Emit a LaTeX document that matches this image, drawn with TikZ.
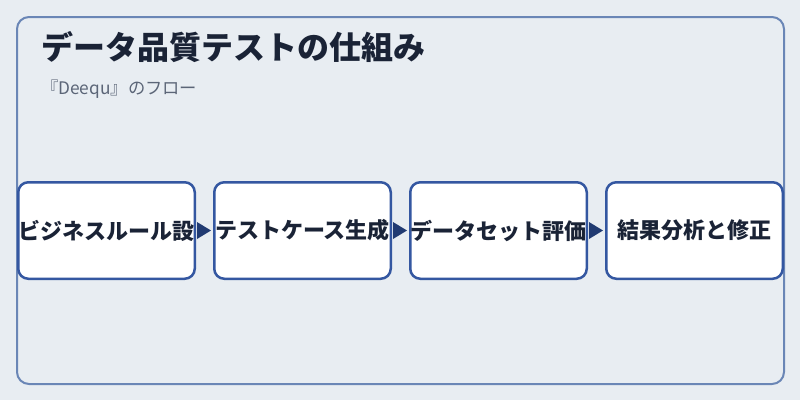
\documentclass[tikz,border=0pt]{standalone}
\usepackage{fontspec}
\setmainfont{Noto Sans CJK JP}
\usetikzlibrary{positioning}
\definecolor{bgpanel}{HTML}{E8EDF2}
\definecolor{framec}{HTML}{6A86B6}
\definecolor{boxc}{HTML}{3457A1}
\definecolor{inkc}{HTML}{1A2336}
\definecolor{subc}{HTML}{5B6577}
\definecolor{tipc}{HTML}{213B72}
\begin{document}
\begin{tikzpicture}[x=1pt,y=-1pt,
    stepbox/.style={draw=boxc,line width=2.5pt,fill=white,rounded corners=10pt,
        minimum width=176.5pt,minimum height=96.5pt,inner sep=0pt,
        font=\fontsize{22}{26}\selectfont\bfseries,text=inkc},
    flowtip/.style={fill=tipc}]
    \fill [bgpanel] (0,0) rectangle (800,400);
    \useasboundingbox (0,0) rectangle (800,400);
    \draw [framec,line width=2pt,rounded corners=12pt] (17,17) rectangle (784,384);
    \node [anchor=west,inner sep=0pt,font=\fontsize{32}{38}\selectfont\bfseries,text=inkc]
        (title) at (41,47) {データ品質テストの仕組み};
    \node [anchor=west,inner sep=0pt,font=\fontsize{17.3}{20}\selectfont,text=subc]
        (subtitle) at (41,89) {『Deequ』のフロー};
    % flow steps
    \node [stepbox] (rules) at (106.5,230.5) {ビジネスルール設};
    \node [stepbox,right=17pt of rules] (cases) {テストケース生成};
    \node [stepbox,right=17pt of cases] (evals) {データセット評価};
    \node [stepbox,right=17pt of evals] (fixes) {結果分析と修正};
    \foreach \a/\b in {rules/cases,cases/evals,evals/fixes}{
        \fill [flowtip] ([xshift=1pt,yshift=8.5pt]\a.east) -- ([xshift=1pt,yshift=-8.5pt]\a.east)
            -- ([xshift=-2pt]\b.west) -- cycle;
    }
\end{tikzpicture}
\end{document}
